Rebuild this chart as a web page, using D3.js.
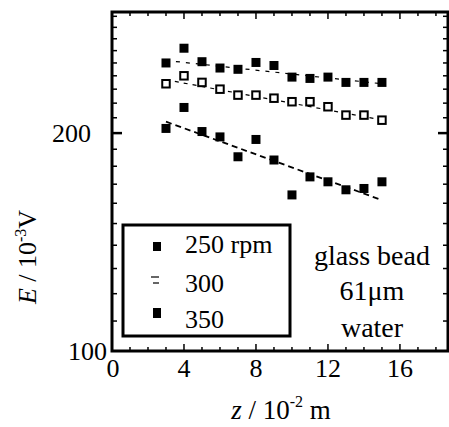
<!DOCTYPE html>
<html><head><meta charset="utf-8">
<script src="https://cdn.jsdelivr.net/npm/d3@7"></script>
<style>body{margin:0;background:#fff}svg{display:block}</style>
</head><body><svg id="c" width="449" height="427"></svg>
<script>
const zValues = [3,4,5,6,7,8,9,10,11,12,13,14,15];
const e250 = [203,217,201,197.6,185.5,196,183.6,164.3,174,171.3,167,167.7,171.3];
const e300 = [234,240,235,230,225.7,225.7,223.5,221,221,217.5,211.8,211.8,208.4];
const e350 = [250,262,251,246,245,250.4,248,239,238,239,235,235,235];
const fitZ = [3,15];
const fit250 = [207.4,161.6];
const fit300 = [237,208.5];
const fit350 = [252,234];
const xTickLabels = [0,4,8,12,16];
const yTickLabels = [100,200];
const legendLabels = ["250 rpm","300","350"];
const noteLines = ["glass bead","61\u03bcm","water"];

const FONT = "'Liberation Serif', 'DejaVu Serif', 'Times New Roman', serif";
const svg = d3.select("#c").attr("font-family",FONT);
const L=112, R=448, T=12, B=351;
const x = d3.scaleLinear().domain([0,18.67]).range([L,R]);
const y = d3.scaleLog().domain([100,294]).range([B,T]);

// frame
svg.append("rect").attr("x",L).attr("y",T).attr("width",R-L).attr("height",B-T)
  .attr("fill","none").attr("stroke","#000").attr("stroke-width",3);

// y ticks (minor every 10, major 200)
const yMinor = d3.range(110,300,10).filter(v=>v!==200 && v<294);
const tickG = svg.append("g").attr("stroke","#000");
yMinor.forEach(v=>{
  tickG.append("line").attr("x1",L).attr("x2",L+5).attr("y1",y(v)).attr("y2",y(v)).attr("stroke-width",1.5);
  tickG.append("line").attr("x1",R).attr("x2",R-5).attr("y1",y(v)).attr("y2",y(v)).attr("stroke-width",1.5);
});
tickG.append("line").attr("x1",L).attr("x2",L+10).attr("y1",y(200)).attr("y2",y(200)).attr("stroke-width",2.5);
tickG.append("line").attr("x1",R).attr("x2",R-10).attr("y1",y(200)).attr("y2",y(200)).attr("stroke-width",2.5);
// x ticks
d3.range(1,19).forEach(v=>{
  const len = v%4===0?7:4;
  tickG.append("line").attr("x1",x(v)).attr("x2",x(v)).attr("y1",B).attr("y2",B-len).attr("stroke-width",1.5);
  tickG.append("line").attr("x1",x(v)).attr("x2",x(v)).attr("y1",T).attr("y2",T+len).attr("stroke-width",1.5);
});

// tick labels
svg.append("g").selectAll("text").data(xTickLabels).join("text")
  .attr("x",d=>x(d)+(d===0?1:0)).attr("y",377).attr("text-anchor","middle")
  .attr("font-size",26).text(d=>d);
svg.append("text").attr("x",91).attr("y",y(200)+9).attr("text-anchor","end").attr("font-size",26).text(yTickLabels[1]);
svg.append("text").attr("x",107).attr("y",360).attr("text-anchor","end").attr("font-size",26).text(yTickLabels[0]);

// axis titles
const xt = svg.append("text").attr("x",281).attr("y",419).attr("text-anchor","middle").attr("font-size",27);
xt.append("tspan").attr("font-style","italic").text("z");
xt.append("tspan").text(" / 10");
xt.append("tspan").attr("font-size",16).attr("dy",-12).text("-2");
xt.append("tspan").attr("dy",12).text(" m");
const yt = svg.append("text").attr("transform","translate(36,257) rotate(-90)").attr("text-anchor","middle").attr("font-size",26);
yt.append("tspan").attr("font-style","italic").text("E");
yt.append("tspan").text(" / 10");
yt.append("tspan").attr("font-size",16).attr("dy",-10).text("-3");
yt.append("tspan").attr("dy",10).text("V");

// fit lines
const line = d3.line().x(d=>x(d[0])).y(d=>y(d[1]));
[[fit250,1.8,"6,4"],[fit300,1.2,"4,5"],[fit350,1.2,"4,6"]].forEach(([f,w,da])=>{
  svg.append("path").attr("d",line(fitZ.map((z,i)=>[z,f[i]]))).attr("fill","none")
    .attr("stroke","#000").attr("stroke-width",w).attr("stroke-dasharray",da);
});

// points
const s=9;
svg.append("g").selectAll("rect").data(zValues.map((z,i)=>[z,e250[i]])).join("rect")
  .attr("x",d=>x(d[0])-s/2).attr("y",d=>y(d[1])-s/2).attr("width",s).attr("height",s).attr("fill","#000");
svg.append("g").selectAll("rect").data(zValues.map((z,i)=>[z,e350[i]])).join("rect")
  .attr("x",d=>x(d[0])-s/2).attr("y",d=>y(d[1])-s/2).attr("width",s).attr("height",s).attr("fill","#000");
const so=7.5;
svg.append("g").selectAll("rect").data(zValues.map((z,i)=>[z,e300[i]])).join("rect")
  .attr("x",d=>x(d[0])-so/2).attr("y",d=>y(d[1])-so/2).attr("width",so).attr("height",so)
  .attr("fill","#fff").attr("stroke","#000").attr("stroke-width",2);

// legend
svg.append("rect").attr("x",123).attr("y",225).attr("width",167).attr("height",111)
  .attr("fill","#fff").attr("stroke","#000").attr("stroke-width",3);
const legY=[253,292,328];
legendLabels.forEach((t,i)=>{
  svg.append("text").attr("x",185).attr("y",legY[i]).attr("font-size",26).text(t);
});
svg.append("rect").attr("x",153).attr("y",242).attr("width",8).attr("height",9).attr("fill","#000");
svg.append("rect").attr("x",153).attr("y",308).attr("width",8).attr("height",10).attr("fill","#000");
svg.append("line").attr("x1",151).attr("x2",159).attr("y1",277).attr("y2",277).attr("stroke","#000").attr("stroke-width",1.2);
svg.append("line").attr("x1",153).attr("x2",159).attr("y1",283).attr("y2",283).attr("stroke","#000").attr("stroke-width",1.2);

// note
const noteY=[265,300,337];
noteLines.forEach((t,i)=>{
  svg.append("text").attr("x",372).attr("y",noteY[i]).attr("text-anchor","middle").attr("font-size",28).text(t);
});
</script></body></html>
